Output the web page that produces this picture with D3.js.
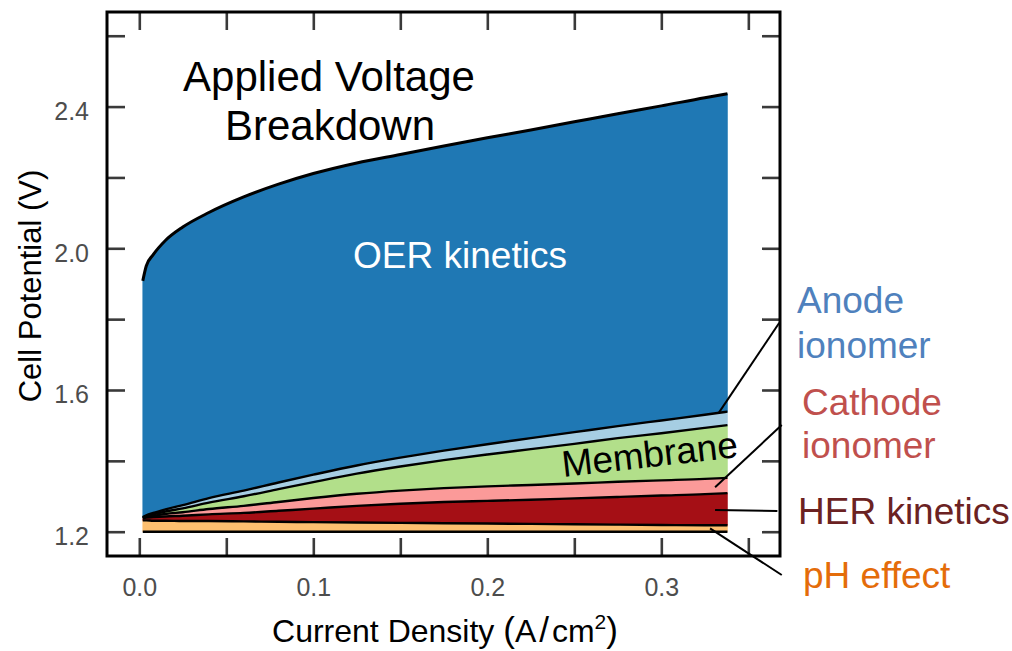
<!DOCTYPE html>
<html>
<head>
<meta charset="utf-8">
<script src="https://cdn.jsdelivr.net/npm/d3@7"></script>
<style>
  html, body { margin: 0; padding: 0; background: #fff; }
  svg { display: block; font-family: "Liberation Sans", Arial, sans-serif; }
</style>
</head>
<body>
<svg id="chart" width="1012" height="651"></svg>
<script>
// ---------------- data ----------------
const currentDensity = [0.002,0.004,0.008,0.015,0.025,0.04,0.06,0.08,0.1,0.125,0.15,0.175,0.2,0.225,0.25,0.275,0.3,0.325,0.338];
const appliedVoltage = [1.908,1.950,1.982,2.022,2.060,2.101,2.145,2.181,2.211,2.241,2.265,2.289,2.312,2.334,2.357,2.380,2.402,2.425,2.436];
const baseVoltage = 1.2;
const phEffect       = [0.032,0.032,0.031,0.031,0.030,0.030,0.029,0.028,0.027,0.026,0.025,0.024,0.023,0.022,0.021,0.020,0.019,0.018,0.018];
const herKinetics    = [0.006,0.008,0.010,0.012,0.015,0.019,0.024,0.031,0.038,0.047,0.054,0.060,0.064,0.068,0.073,0.078,0.083,0.088,0.091];
const cathodeIonomer = [0.001,0.002,0.004,0.007,0.010,0.015,0.020,0.025,0.030,0.034,0.037,0.039,0.041,0.042,0.042,0.043,0.043,0.043,0.043];
const membrane       = [0.001,0.002,0.004,0.007,0.011,0.018,0.027,0.036,0.045,0.057,0.068,0.079,0.090,0.101,0.112,0.123,0.133,0.144,0.149];
const anodeIonomer   = [0.001,0.002,0.004,0.006,0.009,0.013,0.016,0.019,0.021,0.023,0.025,0.027,0.029,0.031,0.033,0.034,0.036,0.037,0.038];

const layerNames  = ["pH effect","HER kinetics","Cathode ionomer","Membrane","Anode ionomer","OER kinetics"];
const layerColors = ["#fdbf6f","#a50f15","#fb9a99","#b2df8a","#a6cee3","#1f78b4"];

const xTickValues = [0,0.05,0.1,0.15,0.2,0.25,0.3,0.35];
const xTickLabels = [0,0.1,0.2,0.3];
const yTickValues = [1.2,1.4,1.6,1.8,2.0,2.2,2.4,2.6];
const yTickLabels = [1.2,1.6,2.0,2.4];

const annotations = [
  {text:["Anode","ionomer"],   color:"#4f81bd", from:[0.3328,1.534], to:[0.3678,1.790]},
  {text:["Cathode","ionomer"], color:"#c0504d", from:[0.3309,1.3254], to:[0.3692,1.5012]},
  {text:["HER kinetics"],      color:"#6b2222", from:[0.3309,1.2613], to:[0.3667,1.2584]},
  {text:["pH effect"],         color:"#e46c0a", from:[0.328,1.2096],  to:[0.3692,1.0778]}
];

// ---------------- layout ----------------
const svg = d3.select("#chart");
const frame = {left:107, right:780, top:12, bottom:556};
const x = d3.scaleLinear().domain([-0.01856, 0.3682]).range([frame.left, frame.right]);
const y = d3.scaleLinear().domain([1.1314, 2.667]).range([frame.bottom, frame.top]);

// build table for stacking
const rows = currentDensity.map((c,i) => {
  const losses = phEffect[i]+herKinetics[i]+cathodeIonomer[i]+membrane[i]+anodeIonomer[i];
  return {
    x: c,
    "pH effect": phEffect[i],
    "HER kinetics": herKinetics[i],
    "Cathode ionomer": cathodeIonomer[i],
    "Membrane": membrane[i],
    "Anode ionomer": anodeIonomer[i],
    "OER kinetics": appliedVoltage[i] - baseVoltage - losses
  };
});
const stacked = d3.stack().keys(layerNames)(rows);

const area = d3.area()
  .x(d => x(d.data.x))
  .y0(d => y(baseVoltage + d[0]))
  .y1(d => y(baseVoltage + d[1]))
  .curve(d3.curveMonotoneX);

const topLine = d3.line()
  .x(d => x(d.data.x))
  .y(d => y(baseVoltage + d[1]))
  .curve(d3.curveMonotoneX);
const bottomLine = d3.line()
  .x(d => x(d.data.x))
  .y(d => y(baseVoltage + d[0]))
  .curve(d3.curveMonotoneX);

const g = svg.append("g");
g.selectAll("path.layer").data(stacked).join("path")
  .attr("class","layer")
  .attr("d", area)
  .attr("fill", (d,i) => layerColors[i])
  .attr("stroke", (d,i) => layerColors[i])
  .attr("stroke-width", 0.6);

// base line
g.append("path").attr("d", bottomLine(stacked[0]))
  .attr("fill","none").attr("stroke","#000").attr("stroke-width",2.4);
// boundaries
g.selectAll("path.bound").data(stacked).join("path")
  .attr("class","bound")
  .attr("d", topLine)
  .attr("fill","none")
  .attr("stroke","#000")
  .attr("stroke-width",(d,i) => i === stacked.length-1 ? 3 : 2.4)
  .attr("stroke-linejoin","round");

// ---------------- axes ----------------
const tickColor = "#3a3a3a";
const tickLen = 18;
function styleTicks(sel){
  sel.select(".domain").remove();
  sel.selectAll(".tick line").attr("stroke", tickColor).attr("stroke-width", 2.6);
}
svg.append("g").attr("transform",`translate(0,${frame.bottom})`)
  .call(d3.axisBottom(x).tickValues(xTickValues).tickSize(-tickLen).tickFormat(""))
  .call(styleTicks);
svg.append("g").attr("transform",`translate(0,${frame.top})`)
  .call(d3.axisTop(x).tickValues(xTickValues).tickSize(-tickLen).tickFormat(""))
  .call(styleTicks);
svg.append("g").attr("transform",`translate(${frame.left},0)`)
  .call(d3.axisLeft(y).tickValues(yTickValues).tickSize(-tickLen).tickFormat(""))
  .call(styleTicks);
svg.append("g").attr("transform",`translate(${frame.right},0)`)
  .call(d3.axisRight(y).tickValues(yTickValues).tickSize(-tickLen).tickFormat(""))
  .call(styleTicks);

// tick labels
const xl = svg.append("g").attr("transform",`translate(0,${frame.bottom})`)
  .call(d3.axisBottom(x).tickValues(xTickLabels).tickSize(0).tickPadding(0).tickFormat(d3.format(".1f")));
xl.select(".domain").remove();
xl.selectAll("text").attr("font-size",25).attr("fill","#4d4d4d")
  .attr("font-family",'"Liberation Sans", Arial, sans-serif')
  .attr("dy",null).attr("y",40);

const yl = svg.append("g").attr("transform",`translate(${frame.left},0)`)
  .call(d3.axisLeft(y).tickValues(yTickLabels).tickSize(0).tickPadding(0).tickFormat(d3.format(".1f")));
yl.select(".domain").remove();
yl.selectAll("text").attr("font-size",25).attr("fill","#4d4d4d")
  .attr("font-family",'"Liberation Sans", Arial, sans-serif')
  .attr("x",-18).attr("dy",null).attr("y",13);

// frame
svg.append("rect")
  .attr("x",frame.left).attr("y",frame.top)
  .attr("width",frame.right-frame.left).attr("height",frame.bottom-frame.top)
  .attr("fill","none").attr("stroke","#000").attr("stroke-width",3);

// axis titles
const xt = svg.append("text").attr("x",445).attr("y",642)
  .attr("text-anchor","middle").attr("font-size",32).attr("fill","#000");
xt.append("tspan").text("Current Density ");
xt.append("tspan").attr("font-size",35).text("(");
xt.append("tspan").text("A");
xt.append("tspan").attr("font-size",35).attr("dx",3).text("/");
xt.append("tspan").attr("dx",3).text("cm");
xt.append("tspan").attr("font-size",21).attr("dy",-13).text("2");
xt.append("tspan").attr("font-size",35).attr("dy",13).text(")");

svg.append("text")
  .attr("transform","translate(41,286) rotate(-90)")
  .attr("text-anchor","middle").attr("font-size",31).attr("fill","#000")
  .text("Cell Potential (V)");

// in-plot text
svg.append("text").attr("x",329).attr("y",91).attr("text-anchor","middle")
  .attr("font-size",42).attr("fill","#000").text("Applied Voltage");
svg.append("text").attr("x",330).attr("y",140).attr("text-anchor","middle")
  .attr("font-size",42).attr("fill","#000").text("Breakdown");
svg.append("text").attr("x",460).attr("y",268).attr("text-anchor","middle")
  .attr("font-size",37).attr("fill","#fff").text("OER kinetics");
svg.append("text").attr("transform","translate(651,467) rotate(-6.5)")
  .attr("text-anchor","middle").attr("font-size",37).attr("fill","#000").text("Membrane");

// annotations
const labelPos = [[797,313,45],[802,415,43],[798,524,0],[803,588,0]];
annotations.forEach((a,i) => {
  svg.append("line")
    .attr("x1",x(a.from[0])).attr("y1",y(a.from[1]))
    .attr("x2",x(a.to[0])).attr("y2",y(a.to[1]))
    .attr("stroke","#000").attr("stroke-width",2);
  const t = svg.append("text").attr("font-size",37).attr("fill",a.color);
  a.text.forEach((s,k) => {
    t.append("tspan").attr("x",labelPos[i][0]).attr("y",labelPos[i][1] + k*labelPos[i][2]).text(s);
  });
});
</script>
</body>
</html>
